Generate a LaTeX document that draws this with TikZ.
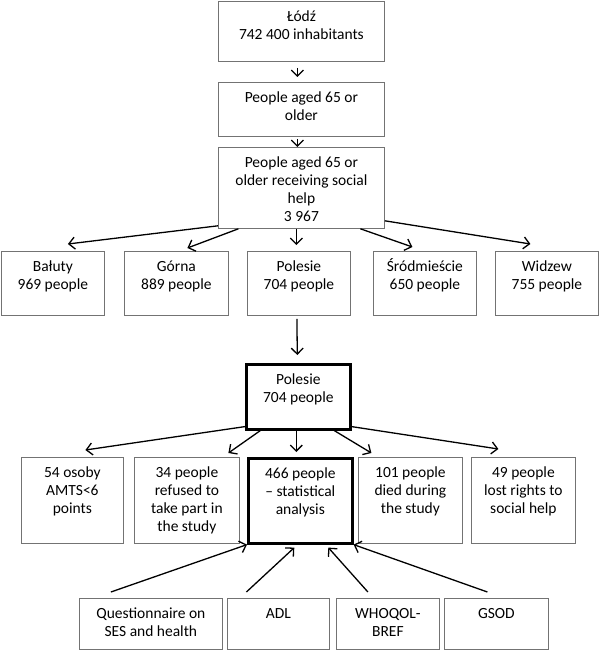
\documentclass[tikz,border=0pt]{standalone}
\usepackage{fontspec}
\setmainfont{Carlito}
\usetikzlibrary{arrows.meta}
\newcommand{\celltext}[3]{\parbox[c][#2pt][t]{#1pt}{\centering\fontsize{15.5}{18}\selectfont\rule{0pt}{20.5pt}#3}}

\begin{document}
\begin{tikzpicture}[x=1pt, y=-1pt,
  cell/.style={draw=black!55, line width=0.8pt, inner sep=0pt, anchor=north west},
  boldcell/.style={draw=black, line width=2.6pt, inner sep=0pt, anchor=north west},
  arr/.style={-{Straight Barb[length=6pt,width=12pt]}, line width=1.3pt}]
\useasboundingbox (0,0) rectangle (600,652);
\node[cell] (lodz) at (218,1) {\celltext{166}{60}{Łódź\\742 400 inhabitants}};
\node[cell] (aged) at (218,82) {\celltext{166}{54}{People aged 65 or\\older}};
\node[cell] (help) at (218,147) {\celltext{166}{81}{People aged 65 or\\older receiving social\\help\\3 967}};
\node[cell] (baluty) at (1,251) {\celltext{103}{64}{Bałuty\\969 people}};
\node[cell] (gorna) at (124,251) {\celltext{104}{64}{Górna\\889 people}};
\node[cell] (polesie) at (247,251) {\celltext{103}{64}{Polesie\\704 people}};
\node[cell] (srod) at (373,251) {\celltext{103}{64}{Śródmieście\\650 people}};
\node[cell] (widzew) at (495,251) {\celltext{103}{64}{Widzew\\755 people}};
\node[boldcell] (pol2) at (245,363) {\celltext{104}{65}{Polesie\\704 people}};
\node[cell] (amts) at (21,457) {\celltext{102}{86}{54 osoby\\AMTS<6\\points}};
\node[cell] (refused) at (134,457) {\celltext{105}{86}{34 people\\refused to\\take part in\\the study}};
\node[boldcell] (stat) at (247,457) {\celltext{104}{85}{466 people\\– statistical\\analysis}};
\node[cell] (died) at (358,457) {\celltext{104}{86}{101 people\\died during\\the study}};
\node[cell] (lost) at (471,457) {\celltext{104}{86}{49 people\\lost rights to\\social help}};
\node[cell] (ques) at (79,598) {\celltext{143}{51}{Questionnaire on\\SES and health}};
\node[cell] (adl) at (227,598) {\celltext{102}{51}{ADL}};
\node[cell] (whoqol) at (336,598) {\celltext{103}{51}{WHOQOL-\\BREF}};
\node[cell] (gsod) at (444,598) {\celltext{104}{51}{GSOD}};

\draw[arr] ([xshift=-4pt,yshift=-6pt]lodz.south) -- ([xshift=-4pt,yshift=5pt]aged.north);
\draw[arr] ([xshift=-4pt,yshift=-2pt]aged.south) -- ([xshift=-4pt]help.north);
\draw[arr] ([yshift=3pt]help.south west) -- ([xshift=15pt,yshift=7pt]baluty.north);
\draw[arr] ([xshift=-63pt]help.south) -- ([xshift=11pt,yshift=3pt]gorna.north);
\draw[arr] ([xshift=-5pt]help.south) -- ([xshift=-2.5pt,yshift=6pt]polesie.north);
\draw[arr] ([xshift=59pt]help.south) -- ([xshift=-12.5pt,yshift=4pt]srod.north);
\draw[arr] ([yshift=8pt]help.south east) -- ([xshift=-16.5pt,yshift=7pt]widzew.north);
\draw[arr] ([xshift=-2pt,yshift=-3pt]polesie.south) -- ([xshift=-1pt,yshift=8pt]pol2.north);
\draw[arr] ([yshift=4pt]pol2.south west) -- ([xshift=13pt,yshift=7pt]amts.north);
\draw[arr] ([xshift=-38pt]pol2.south) -- ([xshift=41.5pt,yshift=4pt]refused.north);
\draw[arr] ([xshift=-2pt]pol2.south) -- ([xshift=-4pt,yshift=5pt]stat.north);
\draw[arr] ([xshift=36pt]pol2.south) -- ([xshift=-39pt,yshift=4pt]died.north);
\draw[arr] ([yshift=4pt]pol2.south east) -- ([xshift=-25pt,yshift=8pt]lost.north);
\draw[arr] ([xshift=-40pt,yshift=6pt]ques.north) -- (stat.south west);
\draw[arr] ([xshift=-32pt,yshift=6pt]adl.north) -- ([xshift=-6pt,yshift=-3pt]stat.south);
\draw[arr] ([xshift=-20pt,yshift=6pt]whoqol.north) -- ([xshift=28pt,yshift=-3pt]stat.south);
\draw[arr] ([xshift=-9pt,yshift=6pt]gsod.north) -- (stat.south east);
\end{tikzpicture}
\end{document}
